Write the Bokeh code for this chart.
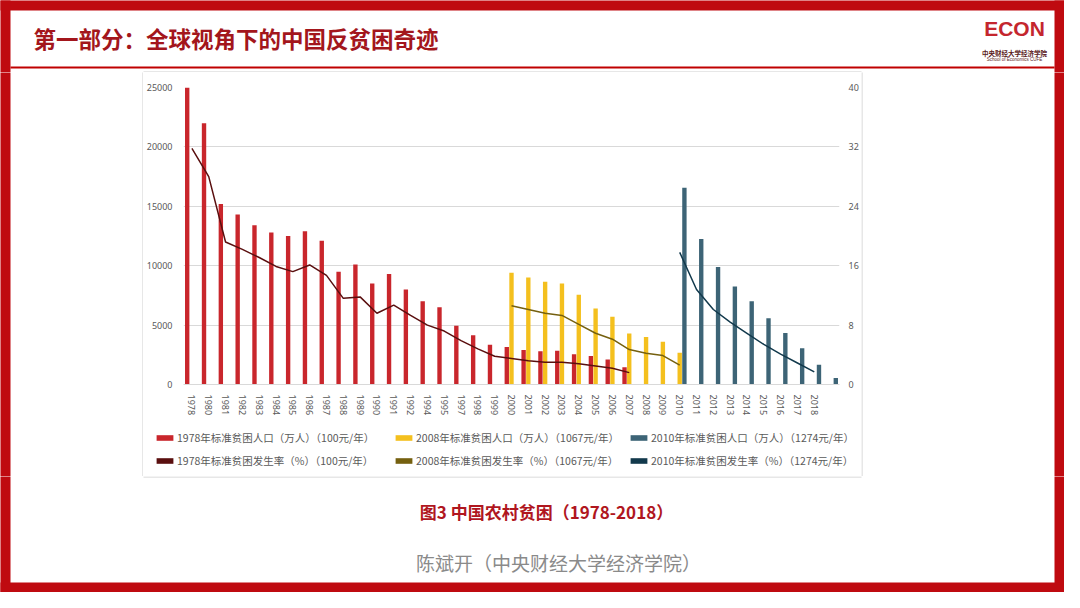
import math
from bokeh.plotting import figure
from bokeh.models import (Range1d, LinearAxis, FactorRange, Legend, LegendItem,
                          ColumnDataSource, FixedTicker, CustomJSTickFormatter)
from bokeh.transform import dodge
from bokeh.layouts import column, row
from bokeh.core.properties import value
from bokeh.embed import file_html
from bokeh.resources import INLINE

# ---------------- data ----------------
years = ["1978", "1980", "1981", "1982", "1983", "1984", "1985", "1986", "1987", "1988",
         "1989", "1990", "1991", "1992", "1994", "1995", "1997", "1998", "1999", "2000",
         "2001", "2002", "2003", "2004", "2005", "2006", "2007", "2008", "2009", "2010",
         "2011", "2012", "2013", "2014", "2015", "2016", "2017", "2018", "2019"]
hidden_year_labels = ["2019"]

std1978_years = years[0:27]
std1978_pop = [25000, 22000, 15200, 14300, 13400, 12800, 12500, 12900, 12100, 9500,
               10100, 8500, 9300, 8000, 7000, 6500, 4950, 4150, 3350, 3150,
               2900, 2800, 2850, 2550, 2400, 2100, 1450]
std1978_rate = [31.8, 28.0, 19.2, 18.2, 17.1, 15.9, 15.2, 16.1, 14.7, 11.6,
                11.8, 9.6, 10.7, 9.3, 8.0, 7.2, 5.9, 4.8, 3.8, 3.5,
                3.2, 3.0, 3.0, 2.8, 2.5, 2.2, 1.6]

std2008_years = years[19:30]
std2008_pop = [9400, 9000, 8650, 8500, 7550, 6400, 5700, 4300, 4000, 3600, 2680]
std2008_rate = [10.6, 10.1, 9.6, 9.3, 8.1, 6.9, 6.1, 4.7, 4.2, 3.9, 2.6]

std2010_years = years[29:39]
std2010_pop = [16567, 12238, 9899, 8249, 7017, 5575, 4335, 3046, 1660, 551]
std2010_rate_years = years[29:38]
std2010_rate = [17.8, 12.8, 10.1, 8.4, 6.9, 5.4, 4.1, 2.9, 1.7]

left_ticks = [0, 5000, 10000, 15000, 20000, 25000]
right_ticks = [0, 8, 16, 24, 32, 40]

series_labels = ["1978年标准贫困人口（万人）（100元/年）",
                 "2008年标准贫困人口（万人）（1067元/年）",
                 "2010年标准贫困人口（万人）（1274元/年）",
                 "1978年标准贫困发生率（%）（100元/年）",
                 "2008年标准贫困发生率（%）（1067元/年）",
                 "2010年标准贫困发生率（%）（1274元/年）"]

title_text = "第一部分：全球视角下的中国反贫困奇迹"
caption_text = "图3 中国农村贫困（1978-2018）"
author_text = "陈斌开（中央财经大学经济学院）"

# ---------------- style ----------------
FRAME = "#BF0A10"
TITLE_C = "#A3161C"
RED_BAR = "#C9262C"
YEL_BAR = "#F4C01E"
BLUE_BAR = "#3D6476"
RED_LINE = "#5A0F0F"
YEL_LINE = "#75600F"
BLUE_LINE = "#12394C"
GRID = "#D9D9D9"
BOX = "#CFCFCF"
LABEL_C = "#595959"
CJK = "Noto Sans CJK SC"
W, H = 1064, 592
T = 10  # red frame thickness


def blank(w, h, x0, x1, y0, y1):
    f = figure(width=w, height=h, x_range=Range1d(x0, x1), y_range=Range1d(y1, y0),
               output_backend="svg", toolbar_location=None,
               x_axis_location=None, y_axis_location=None,
               min_border=0, min_border_left=0, min_border_right=0,
               min_border_top=0, min_border_bottom=0)
    f.frame_align = False
    f.grid.visible = False
    f.outline_line_color = None
    f.background_fill_color = "white"
    f.border_fill_color = "white"
    return f


def frame_bands(f):
    f.quad(left=[-20, -20, W - T, -20], right=[W + 20, T, W + 20, W + 20],
           top=[-20, -20, -20, H - T], bottom=[T, H + 20, H + 20, H + 20],
           fill_color=FRAME, line_color=None)


# ---------------- header (y 0..72) ----------------
hdr = blank(W, 72, 0, W, 0, 72)
frame_bands(hdr)
hdr.line(x=[T, W - T], y=[67, 67], line_color="#C00000", line_width=2)
hdr.line(x=[143, 861], y=[71.5, 71.5], line_color=BOX, line_width=1)
hdr.text(x=[33], y=[37], text=[title_text], text_font=value(CJK), text_font_size="22.5px",
         text_font_style="bold", text_color=TITLE_C, text_baseline="middle", text_align="left")
hdr.text(x=[1014], y=[28], text=["ECON"], text_font=value("Liberation Sans"),
         text_font_size="21px", text_font_style="bold", text_color="#C4262E",
         text_baseline="middle", text_align="center")
hdr.text(x=[1014], y=[52], text=["中央财经大学经济学院"], text_font=value(CJK),
         text_font_size="6.5px", text_font_style="bold", text_color="#5A1A1A",
         text_baseline="middle", text_align="center")
hdr.text(x=[1014], y=[58.5], text=["School of Economics CUFE"], text_font=value("Liberation Sans"),
         text_font_size="4.5px", text_color="#5A1A1A",
         text_baseline="middle", text_align="center")

# ---------------- side fillers (y 72..476) ----------------
lft = blank(143, 404, 0, 143, 72, 476)
frame_bands(lft)
lft.line(x=[142.5, 142.5], y=[60, 490], line_color=BOX, line_width=1)

rgt = blank(W - 861, 404, 861, W, 72, 476)
frame_bands(rgt)
rgt.line(x=[861.5, 861.5], y=[60, 490], line_color=BOX, line_width=1)

# ---------------- chart (x 143..861, y 72..418) ----------------
p = figure(width=718, height=346,
           x_range=FactorRange(factors=years, range_padding=0, factor_padding=0),
           y_range=Range1d(0, 25000),
           output_backend="svg", toolbar_location=None,
           min_border_left=38, min_border_right=18, min_border_top=15, min_border_bottom=31)
p.frame_align = False
p.extra_y_ranges = {"rate": Range1d(0, 40)}
p.outline_line_color = None
p.background_fill_color = "white"
p.border_fill_color = "white"
p.xgrid.grid_line_color = None
p.ygrid.grid_line_color = GRID
p.ygrid.grid_line_width = 1

p.yaxis.ticker = FixedTicker(ticks=left_ticks)
p.yaxis.axis_line_color = None
p.yaxis.major_tick_line_color = None
p.yaxis.minor_tick_line_color = None
p.yaxis.major_label_standoff = 5
p.yaxis.major_label_text_font = "Noto Sans"
p.yaxis.major_label_text_font_size = "9px"
p.yaxis.major_label_text_color = LABEL_C

ry = LinearAxis(y_range_name="rate", ticker=FixedTicker(ticks=right_ticks))
ry.axis_line_color = None
ry.major_tick_line_color = None
ry.minor_tick_line_color = None
ry.major_label_standoff = 3
ry.major_label_text_font = "Noto Sans"
ry.major_label_text_font_size = "9px"
ry.major_label_text_color = LABEL_C
p.add_layout(ry, "right")

p.xaxis.axis_line_color = GRID
p.xaxis.major_tick_line_color = None
p.xaxis.minor_tick_line_color = None
p.xaxis.major_label_orientation = -math.pi / 2
p.xaxis.major_label_standoff = 4
p.xaxis.major_label_text_font = "Noto Sans"
p.xaxis.major_label_text_font_size = "9px"
p.xaxis.major_label_text_color = LABEL_C
p.xaxis.formatter = CustomJSTickFormatter(
    args=dict(hidden=hidden_year_labels),
    code="return hidden.includes(tick) ? '' : tick;")

s78 = ColumnDataSource(dict(year=std1978_years, pop=std1978_pop, rate=std1978_rate))
s08 = ColumnDataSource(dict(year=std2008_years, pop=std2008_pop, rate=std2008_rate))
s10 = ColumnDataSource(dict(year=std2010_years, pop=std2010_pop))
s10r = ColumnDataSource(dict(year=std2010_rate_years, rate=std2010_rate))

BW = 0.26
p.vbar(x=dodge("year", -0.28, range=p.x_range), top="pop", width=BW, source=s78,
       fill_color=RED_BAR, line_color=None)
p.vbar(x=dodge("year", 0.0, range=p.x_range), top="pop", width=BW, source=s08,
       fill_color=YEL_BAR, line_color=None)
p.vbar(x=dodge("year", 0.28, range=p.x_range), top="pop", width=BW, source=s10,
       fill_color=BLUE_BAR, line_color=None)

p.line(x="year", y="rate", source=s78, y_range_name="rate", line_color=RED_LINE, line_width=1.5)
p.line(x="year", y="rate", source=s08, y_range_name="rate", line_color=YEL_LINE, line_width=1.5)
p.line(x="year", y="rate", source=s10r, y_range_name="rate", line_color=BLUE_LINE, line_width=1.5)

# ---------------- legend strip (x 143..861, y 418..476) ----------------
lg = figure(width=718, height=58, x_range=Range1d(0, 1), y_range=Range1d(0, 1),
            output_backend="svg", toolbar_location=None,
            x_axis_location=None, y_axis_location=None,
            min_border=0, min_border_left=0, min_border_right=0,
            min_border_top=0, min_border_bottom=0)
lg.frame_align = False
lg.grid.visible = False
lg.outline_line_color = None
lg.background_fill_color = "white"
lg.border_fill_color = "white"

swatch_colors = [RED_BAR, YEL_BAR, BLUE_BAR, RED_LINE, YEL_LINE, BLUE_LINE]
# swatch renderers sit outside the visible range; only their legend glyphs show
swatches = [lg.vbar(x=[5], top=[5], bottom=[4], width=0.1, fill_color=c, line_color=None)
            for c in swatch_colors]


def make_legend(idx, loc):
    leg = Legend(items=[LegendItem(label=series_labels[i], renderers=[swatches[i]]) for i in idx],
                 orientation="vertical", location=loc, spacing=8,
                 padding=0, margin=0, glyph_width=21, glyph_height=7, label_standoff=2,
                 label_height=12, label_text_font=CJK, label_text_font_size="10.5px",
                 label_text_color=LABEL_C, border_line_color=None, background_fill_alpha=0)
    lg.add_layout(leg)
    return leg


make_legend([0, 3], (11, 8))
make_legend([1, 4], (250, 8))
make_legend([2, 5], (485, 8))

# ---------------- bottom (y 476..592) ----------------
bot = blank(W, H - 476, 0, W, 476, H)
frame_bands(bot)
bot.line(x=[143, 861], y=[476.5, 476.5], line_color=BOX, line_width=1)
bot.text(x=[546], y=[511], text=[caption_text], text_font=value(CJK), text_font_size="17px",
         text_font_style="bold", text_color="#B0161E", text_baseline="middle", text_align="center")
bot.text(x=[558], y=[562], text=[author_text], text_font=value(CJK), text_font_size="19px",
         text_color="#8A8A8A", text_baseline="middle", text_align="center")

layout = column(hdr, row(lft, column(p, lg), rgt), bot)

open("out.html", "w").write(file_html(layout, INLINE))
